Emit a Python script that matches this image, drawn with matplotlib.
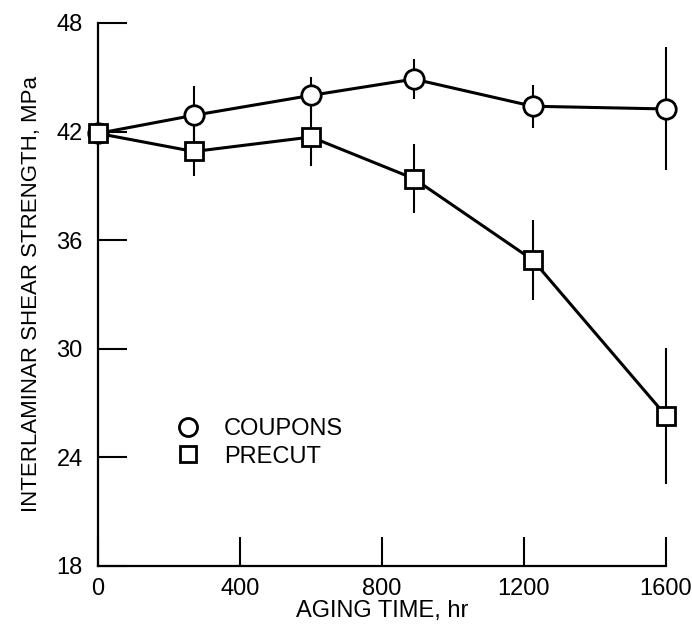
import matplotlib
matplotlib.use("Agg")
from matplotlib import pyplot as plt
from matplotlib.lines import Line2D

plt.rcParams["font.family"] = ["Liberation Sans", "DejaVu Sans"]

hours = [0, 270, 600, 890, 1225, 1600]
coupons = [41.9, 42.9, 44.0, 44.9, 43.4, 43.25]
coupons_err = [0.0, 1.6, 1.0, 1.1, 1.2, 3.4]
precut = [41.9, 40.9, 41.7, 39.4, 34.9, 26.3]
precut_err = [0.0, 1.35, 1.6, 1.9, 2.2, 3.75]

x_ticks = [0, 400, 800, 1200, 1600]
y_ticks = [18, 24, 30, 36, 42, 48]

fig = plt.figure(figsize=(6.92, 6.35), dpi=100)
ax = fig.add_axes([0.1416, 0.1087, 0.8208, 0.8551])

# error bars first so the white markers sit on top
for vals, err in [(coupons, coupons_err), (precut, precut_err)]:
    eb = ax.errorbar(hours, vals, yerr=err, fmt="none", ecolor="k", elinewidth=1.5, zorder=1)
    for coll in eb.lines[2]:
        coll.set_clip_on(False)
ax.plot(hours, coupons, "-", color="k", lw=2.2, zorder=2, clip_on=False)
ax.plot(hours, precut, "-", color="k", lw=2.2, zorder=2, clip_on=False)
ax.plot(hours, coupons, "o", ms=14, mfc="white", mec="k", mew=2.0, ls="none", zorder=3, clip_on=False)
ax.plot(hours, precut, "s", ms=13, mfc="white", mec="k", mew=2.0, ls="none", zorder=3, clip_on=False)

ax.set_xlim(0, 1600)
ax.set_ylim(18, 48)
ax.set_xticks(x_ticks)
ax.set_yticks(y_ticks)
ax.tick_params(direction="in", length=21, width=1.5, labelsize=17)
ax.tick_params(axis="y", pad=11)
ax.tick_params(axis="x", pad=9)
for side in ["top", "right"]:
    ax.spines[side].set_visible(False)
for side in ["left", "bottom"]:
    ax.spines[side].set_linewidth(1.6)

ax.set_xlabel("AGING TIME, hr", fontsize=17, labelpad=0)
ax.set_ylabel("INTERLAMINAR SHEAR STRENGTH, MPa", fontsize=16, labelpad=10)

handles = [
    Line2D([], [], marker="o", ls="none", ms=13, mfc="white", mec="k", mew=2.0),
    Line2D([], [], marker="s", ls="none", ms=12, mfc="white", mec="k", mew=2.0),
]
ax.legend(handles, ["COUPONS", "PRECUT"], loc="center left", bbox_to_anchor=(0.08, 0.227),
          frameon=False, fontsize=17, handletextpad=0.5, labelspacing=0.25)

fig.savefig("out.png", dpi=100)
